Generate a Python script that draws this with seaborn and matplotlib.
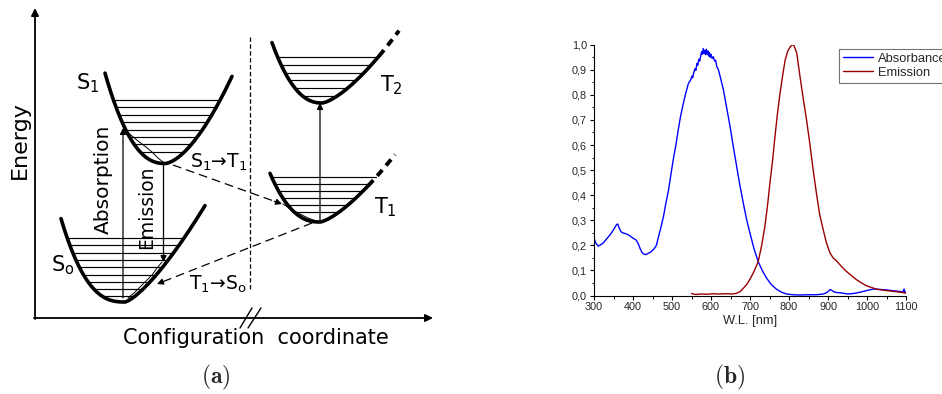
import numpy as np
import pandas as pd
import matplotlib
matplotlib.use("Agg")
import matplotlib.pyplot as plt
from matplotlib.ticker import FixedLocator, MultipleLocator
import seaborn as sns

# ---------------------------------------------------------------- spectra (b)
abs_wl = [300, 305, 311, 318, 324, 332, 340, 345, 350, 355, 358, 361, 365, 369,
          373, 378, 384, 390, 397, 403, 408, 413, 418, 423, 428, 433, 439, 446,
          454, 460, 465, 471, 478, 484, 491, 497, 503, 510, 516, 522, 529, 535,
          542, 548, 551, 553, 556, 559, 561, 564, 566, 569, 571, 574, 576, 578,
          580, 582, 584, 586, 588, 590, 592, 594, 596, 598, 600, 603, 606, 609,
          612, 615, 619, 624, 632, 640, 649, 657, 666, 674, 683, 691, 700, 710,
          721, 732, 743, 755, 768, 781, 794, 810, 828, 850, 870, 888, 897, 903,
          906, 910, 916, 922, 935, 951, 965, 982, 1000, 1017, 1035, 1051, 1068,
          1085, 1092, 1095, 1097, 1100]
abs_val = [0.228, 0.208, 0.197, 0.203, 0.210, 0.225, 0.240, 0.250, 0.262, 0.275,
           0.283, 0.285, 0.268, 0.255, 0.250, 0.248, 0.245, 0.240, 0.232, 0.226,
           0.221, 0.208, 0.188, 0.172, 0.165, 0.163, 0.168, 0.174, 0.186, 0.200,
           0.232, 0.268, 0.314, 0.365, 0.420, 0.480, 0.540, 0.600, 0.660, 0.715,
           0.766, 0.805, 0.845, 0.860, 0.875, 0.868, 0.890, 0.905, 0.897, 0.925,
           0.918, 0.942, 0.935, 0.958, 0.972, 0.962, 0.985, 0.965, 0.978, 0.960,
           0.982, 0.962, 0.975, 0.955, 0.968, 0.950, 0.962, 0.945, 0.952, 0.935,
           0.938, 0.912, 0.900, 0.870, 0.819, 0.750, 0.673, 0.595, 0.513, 0.440,
           0.367, 0.305, 0.248, 0.188, 0.135, 0.098, 0.068, 0.043, 0.025, 0.013,
           0.006, 0.003, 0.002, 0.003, 0.003, 0.006, 0.012, 0.020, 0.024, 0.020,
           0.014, 0.012, 0.010, 0.006, 0.008, 0.013, 0.020, 0.026, 0.024, 0.022,
           0.019, 0.016, 0.014, 0.026, 0.010, 0.015]

em_wl = [550, 560, 575, 590, 605, 620, 640, 655, 666, 675, 683, 692, 700, 710,
         721, 730, 738, 745, 751, 758, 764, 770, 777, 784, 790, 797, 803, 808,
         813, 817, 820, 828, 837, 845, 853, 862, 871, 879, 888, 896, 905, 913,
         922, 935, 948, 961, 974, 987, 1000, 1013, 1026, 1042, 1059, 1075, 1090,
         1100]
em_val = [0.008, 0.004, 0.006, 0.005, 0.007, 0.006, 0.007, 0.006, 0.009, 0.016,
          0.029, 0.045, 0.065, 0.095, 0.135, 0.200, 0.274, 0.360, 0.447, 0.540,
          0.633, 0.720, 0.806, 0.880, 0.938, 0.975, 0.991, 1.000, 0.995, 0.980,
          0.965, 0.875, 0.780, 0.700, 0.610, 0.500, 0.400, 0.320, 0.260, 0.210,
          0.170, 0.150, 0.138, 0.115, 0.095, 0.078, 0.062, 0.049, 0.038, 0.031,
          0.025, 0.021, 0.018, 0.015, 0.012, 0.010]

series_names = ["Absorbance", "Emission"]
series_colors = ["#0000ff", "#990000"]

x_ticks = [300, 400, 500, 600, 700, 800, 900, 1000, 1100]
x_tick_labels = ["300", "400", "500", "600", "700", "800", "900", "1000", "1100"]
y_ticks = [0.0, 0.1, 0.2, 0.3, 0.4, 0.5, 0.6, 0.7, 0.8, 0.9, 1.0]
y_tick_labels = ["0,0", "0,1", "0,2", "0,3", "0,4", "0,5", "0,6", "0,7", "0,8",
                 "0,9", "1,0"]
x_label = "W.L. [nm]"

# ------------------------------------------------- configuration diagram (a)
# sketch units: x to the right, energy upwards (y axis inverted below)
well_names = ["S0", "S1", "T1", "T2"]
well_x0 = [125, 165, 320, 322]          # position of the minimum
well_ymin = [302, 163.5, 222, 103]      # height of the minimum
well_kL = [0.00175, 0.0065, 0.00407, 0.00807]
well_pL = [2.59, 2.33, 2.4, 2.28]
well_kR = [0.26, 0.092, 0.16, 0.139]
well_pR = [1.35, 1.63, 1.4, 1.44]
well_left_end = [64, 60, 50, 50]
well_right_solid = [80, 67, 48, 57]
well_right_dash = [0, 0, 75, 77]
level_top = [238, 100, 177, 57]
level_step = [7.3, 7.4, 7.0, 7.8]
level_count = [9, 8, 6, 6]


def branch_drop(dx, k, p):
    return k * np.abs(dx) ** p


sns.set_theme(style="white")
plt.rcParams["font.family"] = ["DejaVu Sans"]

fig = plt.figure(figsize=(9.42, 3.94), dpi=100)

# ---------------------------------------------------------------- panel (a)
axa = fig.add_axes([0, 0, 470 / 942, 1])
axa.set_xlim(0, 470)
axa.set_ylim(394, 0)
axa.axis("off")

for i in range(len(well_names)):
    x0, ym = well_x0[i], well_ymin[i]
    dl = np.linspace(-well_left_end[i], 0, 80)
    dr = np.linspace(0, well_right_solid[i], 80)
    xs = np.concatenate([x0 + dl, x0 + dr])
    ys = np.concatenate([ym - branch_drop(dl, well_kL[i], well_pL[i]),
                         ym - branch_drop(dr, well_kR[i], well_pR[i])])
    axa.plot(xs, ys, color="black", lw=2.6, solid_capstyle="round")
    if well_right_dash[i] > 0:
        dd = np.linspace(well_right_solid[i], well_right_dash[i], 40)
        axa.plot(x0 + dd, ym - branch_drop(dd, well_kR[i], well_pR[i]),
                 color="black", lw=2.8, dashes=(2.0, 1.5))
    for j in range(level_count[i]):
        y = level_top[i] + j * level_step[i]
        d = ym - y
        xl = x0 - (d / well_kL[i]) ** (1 / well_pL[i])
        xr = x0 + (d / well_kR[i]) ** (1 / well_pR[i])
        axa.plot([xl, xr], [y, y], color="black", lw=0.85)

# relaxation paths inside the wells
axa.plot([124, 132, 138, 146, 152, 158, 163], [129, 136, 141, 147, 152, 158, 162],
         color="black", lw=0.7)
axa.plot([162, 157, 152, 146, 140, 134, 128], [262, 268, 275, 281, 287, 293, 298],
         color="black", lw=0.7)
axa.plot([283, 292, 300, 308, 316], [204, 210, 214, 218, 221], color="black", lw=0.7)

arrow_kw = dict(arrowstyle="-|>", color="black", lw=0.9, mutation_scale=9,
                shrinkA=0, shrinkB=0)
# vertical transitions
axa.annotate("", xy=(123, 128), xytext=(123, 298), arrowprops=arrow_kw)
axa.annotate("", xy=(163.5, 262), xytext=(163.5, 164), arrowprops=arrow_kw)
axa.annotate("", xy=(320, 103), xytext=(320, 221), arrowprops=arrow_kw)

# dashed intersystem crossings
for (xa, ya), (xb, yb) in [((173, 165), (282, 204)), ((312, 223), (157, 284))]:
    t = 0.93
    xm, ymm = xa + (xb - xa) * t, ya + (yb - ya) * t
    axa.plot([xa, xm], [ya, ymm], color="black", lw=0.9, dashes=(7, 4))
    axa.annotate("", xy=(xb, yb), xytext=(xm, ymm), arrowprops=arrow_kw)

# separating dashed line and coordinate axes
axa.plot([250, 250], [37, 290], color="black", lw=0.9, dashes=(3.5, 2))
axa.annotate("", xy=(35, 8), xytext=(35, 319),
             arrowprops=dict(arrowstyle="-|>", color="black", lw=1.3,
                             mutation_scale=11, shrinkA=0, shrinkB=0))
axa.annotate("", xy=(433, 318), xytext=(34, 318),
             arrowprops=dict(arrowstyle="-|>", color="black", lw=1.3,
                             mutation_scale=11, shrinkA=0, shrinkB=0))
axa.plot([240, 252], [328, 308], color="black", lw=1.0)
axa.plot([248, 261], [328, 308], color="black", lw=1.0)

txt = dict(color="black", ha="center", va="center")
axa.text(20, 140, "Energy", rotation=90, fontsize=16, **txt)
axa.text(256, 338, "Configuration  coordinate", fontsize=15, **txt)
axa.text(103, 179, "Absorption", rotation=90, fontsize=14.5, **txt)
axa.text(147, 207, "Emission", rotation=90, fontsize=13.5, **txt)
axa.text(88, 83, "S$_1$", fontsize=15, **txt)
axa.text(63, 265, "S$_\\mathrm{o}$", fontsize=15, **txt)
axa.text(391, 85, "T$_2$", fontsize=15, **txt)
axa.text(385, 207, "T$_1$", fontsize=15, **txt)
axa.text(219, 162, "S$_1$\u2192T$_1$", fontsize=13.5, **txt)
axa.text(218, 284, "T$_1$\u2192S$_\\mathrm{o}$", fontsize=13.5, **txt)

fig.text(216 / 942, 1 - 377 / 394, r"$\mathbf{(a)}$", fontsize=17,
         math_fontfamily="cm", ha="center", va="center")
fig.text(730 / 942, 1 - 377 / 394, r"$\mathbf{(b)}$", fontsize=17,
         math_fontfamily="cm", ha="center", va="center")

# ---------------------------------------------------------------- panel (b)
axb = fig.add_axes([594 / 942, 1 - 295.5 / 394, 312 / 942, 250.8 / 394])
df_abs = pd.DataFrame({"wl": abs_wl, "val": abs_val})
df_em = pd.DataFrame({"wl": em_wl, "val": em_val})
sns.lineplot(data=df_abs, x="wl", y="val", color=series_colors[0], lw=1.0,
             label=series_names[0], estimator=None, ax=axb)
sns.lineplot(data=df_em, x="wl", y="val", color=series_colors[1], lw=1.0,
             label=series_names[1], estimator=None, ax=axb)

axb.set_xlim(300, 1100)
axb.set_ylim(0, 1.0)
axb.xaxis.set_major_locator(FixedLocator(x_ticks))
axb.set_xticklabels(x_tick_labels, fontsize=7.8, family="Liberation Sans")
axb.xaxis.set_minor_locator(MultipleLocator(50))
axb.yaxis.set_major_locator(FixedLocator(y_ticks))
axb.set_yticklabels(y_tick_labels, fontsize=7.8, family="Liberation Sans")
axb.yaxis.set_minor_locator(MultipleLocator(0.05))
for side in ["top", "right"]:
    axb.spines[side].set_visible(False)
for side in ["left", "bottom"]:
    axb.spines[side].set_color("black")
    axb.spines[side].set_linewidth(0.8)
axb.tick_params(which="major", direction="out", length=3, width=0.8,
                color="black", pad=2, bottom=True, left=True)
axb.tick_params(which="minor", direction="out", length=1.8, width=0.7,
                color="black", bottom=True, left=True)
axb.set_xlabel(x_label, fontsize=9.3, family="Liberation Sans", labelpad=1.5)
axb.set_ylabel("")
axb.grid(False)

leg = axb.legend(loc="upper left", bbox_to_anchor=(839 / 942, 1 - 49 / 394),
                 bbox_transform=fig.transFigure, frameon=True, fancybox=False,
                 edgecolor="0.45", framealpha=1, borderpad=0.3, borderaxespad=0,
                 handlelength=2.3, handletextpad=0.4, labelspacing=0.15,
                 prop={"family": "Liberation Sans", "size": 9.3})
leg.get_frame().set_linewidth(0.8)

fig.savefig("out.png", dpi=100)
